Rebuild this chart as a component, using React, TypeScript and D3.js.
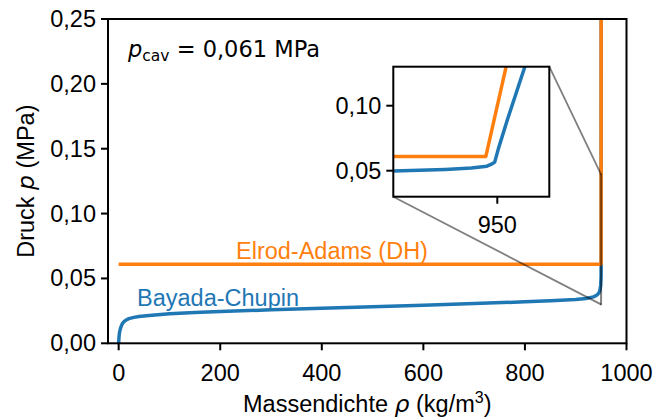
import React from "react";
import * as d3 from "d3";

// ---- data ----
const blueRho = [0, 0.5, 1, 2, 4, 7, 10, 15, 20, 30, 40, 60, 100, 150, 200, 300, 400, 500, 600, 700, 800, 850, 900, 920, 935, 942, 946, 948, 949.2, 949.8, 949.9, 949.95, 949.98, 949.99, 949.995, 950.002, 950.02, 950.053, 950.1, 950.2];
const blueP = [0, 0.004, 0.006, 0.009, 0.012, 0.015, 0.0165, 0.018, 0.019, 0.02, 0.0207, 0.0215, 0.0228, 0.0237, 0.0245, 0.0258, 0.027, 0.0282, 0.0294, 0.0306, 0.032, 0.0328, 0.0338, 0.0346, 0.0358, 0.0372, 0.039, 0.0415, 0.045, 0.0498, 0.051, 0.052, 0.0535, 0.0552, 0.0566, 0.0668, 0.09, 0.13, 0.19, 0.32];
const orangeRho = [0, 949.978, 950.017, 950.2];
const orangeP = [0.061, 0.061, 0.13, 0.454];

const xTicks = [0, 200, 400, 600, 800, 1000];
const yTicks = [0, 0.05, 0.1, 0.15, 0.2, 0.25];
const insetXTicks = [950];
const insetYTicks = [0.05, 0.1];
const mainXDomain = [-21, 1000];
const mainYDomain = [0, 0.25];
const insetXDomain = [949.8, 950.1];
const insetYDomain = [0.03, 0.13];
const labelBlue = "Bayada-Chupin";
const labelOrange = "Elrod-Adams (DH)";

const fmt = (v: number) => v.toFixed(2).replace(".", ",");

const BLUE = "#1f77b4";
const ORANGE = "#ff7f0e";
const SANS = "'Liberation Sans', Arial, sans-serif";
const MATH = "'DejaVu Sans', sans-serif";
const FS = 23.5;

export default function App() {
  const M = { l: 108, r: 626.5, t: 19, b: 343.3 };
  const I = { l: 393.3, r: 549.3, t: 66.7, b: 196.7 };
  const x = d3.scaleLinear().domain(mainXDomain).range([M.l, M.r]);
  const y = d3.scaleLinear().domain(mainYDomain).range([M.b, M.t]);
  const xi = d3.scaleLinear().domain(insetXDomain).range([I.l, I.r]);
  const yi = d3.scaleLinear().domain(insetYDomain).range([I.b, I.t]);

  const blue = blueRho.map((r, i) => [r, blueP[i]] as [number, number]);
  const orange = orangeRho.map((r, i) => [r, orangeP[i]] as [number, number]);
  const lineMain = d3.line<[number, number]>().x(d => x(d[0])).y(d => y(d[1]));
  const lineInset = d3.line<[number, number]>().x(d => xi(d[0])).y(d => yi(d[1]));

  const rx0 = x(insetXDomain[0]), rx1 = x(insetXDomain[1]);
  const ry0 = y(insetYDomain[1]), ry1 = y(insetYDomain[0]);

  return (
    <svg width={654} height={417} style={{ position: "absolute", left: 0, top: 0, background: "#fff" }}>
      <defs>
        <clipPath id="cm"><rect x={M.l} y={M.t} width={M.r - M.l} height={M.b - M.t} /></clipPath>
        <clipPath id="ci"><rect x={I.l} y={I.t} width={I.r - I.l} height={I.b - I.t} /></clipPath>
      </defs>
      <rect width={654} height={417} fill="#fff" />
      <g clipPath="url(#cm)">
        <path d={lineMain(blue) || ""} fill="none" stroke={BLUE} strokeWidth={3.5} strokeLinejoin="round" />
        <path d={lineMain(orange) || ""} fill="none" stroke={ORANGE} strokeWidth={3.5} strokeLinejoin="round" />
      </g>
      {/* main axes frame */}
      <rect x={M.l} y={M.t} width={M.r - M.l} height={M.b - M.t} fill="none" stroke="#000" strokeWidth={2} />
      {xTicks.map(t => (
        <g key={"x" + t}>
          <line x1={x(t)} x2={x(t)} y1={M.b} y2={M.b + 7} stroke="#000" strokeWidth={2} />
          <text x={x(t)} y={381} textAnchor="middle" fontFamily={SANS} fontSize={FS}>{t}</text>
        </g>
      ))}
      {yTicks.map(t => (
        <g key={"y" + t}>
          <line x1={M.l - 7} x2={M.l} y1={y(t)} y2={y(t)} stroke="#000" strokeWidth={2} />
          <text x={M.l - 12} y={y(t) + 8} textAnchor="end" fontFamily={SANS} fontSize={FS}>{fmt(t)}</text>
        </g>
      ))}
      <text x={(M.l + M.r) / 2} y={412} textAnchor="middle" fontFamily={SANS} fontSize={FS}>
        Massendichte <tspan fontFamily={MATH} fontStyle="italic">ρ</tspan> (kg/m<tspan dy={-9} fontSize={16}>3</tspan><tspan dy={9}>)</tspan>
      </text>
      <text transform={`translate(34,${(M.t + M.b) / 2}) rotate(-90)`} textAnchor="middle" fontFamily={SANS} fontSize={FS}>
        Druck <tspan fontFamily={MATH} fontStyle="italic">p</tspan> (MPa)
      </text>
      <text x={128} y={57} fontFamily={MATH} fontSize={22.5}>
        <tspan fontStyle="italic">p</tspan><tspan fontSize={15.5} dy={4}>cav</tspan><tspan dy={-4}> = 0,061 MPa</tspan>
      </text>
      <text x={137} y={306} fontFamily={SANS} fontSize={FS} fill={BLUE}>{labelBlue}</text>
      <text x={236} y={259} fontFamily={SANS} fontSize={FS} fill={ORANGE}>{labelOrange}</text>

      {/* inset */}
      <rect x={I.l} y={I.t} width={I.r - I.l} height={I.b - I.t} fill="#fff" />
      <g clipPath="url(#ci)">
        <path d={lineInset(blue) || ""} fill="none" stroke={BLUE} strokeWidth={3.5} strokeLinejoin="round" />
        <path d={lineInset(orange) || ""} fill="none" stroke={ORANGE} strokeWidth={3.5} strokeLinejoin="round" />
      </g>
      <rect x={I.l} y={I.t} width={I.r - I.l} height={I.b - I.t} fill="none" stroke="#000" strokeWidth={2} />
      {insetXTicks.map(t => (
        <g key={"ix" + t}>
          <line x1={xi(t)} x2={xi(t)} y1={I.b} y2={I.b + 7} stroke="#000" strokeWidth={2} />
          <text x={xi(t)} y={233} textAnchor="middle" fontFamily={SANS} fontSize={FS}>{t}</text>
        </g>
      ))}
      {insetYTicks.map(t => (
        <g key={"iy" + t}>
          <line x1={I.l - 7} x2={I.l} y1={yi(t)} y2={yi(t)} stroke="#000" strokeWidth={2} />
          <text x={I.l - 12} y={yi(t) + 8} textAnchor="end" fontFamily={SANS} fontSize={FS}>{fmt(t)}</text>
        </g>
      ))}
      {/* mark inset */}
      <g stroke="rgba(0,0,0,0.5)" strokeWidth={1.8} fill="none">
        <rect x={rx0} y={ry0} width={Math.max(rx1 - rx0, 0.1)} height={ry1 - ry0} />
        <line x1={I.r} y1={I.t} x2={rx1} y2={ry0} />
        <line x1={I.l} y1={I.b} x2={rx0} y2={ry1} />
      </g>
    </svg>
  );
}
